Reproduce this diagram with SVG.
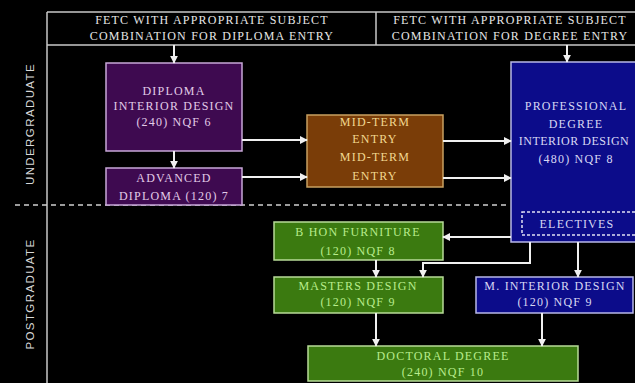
<svg xmlns="http://www.w3.org/2000/svg" width="635" height="383" viewBox="0 0 635 383">
<defs>
<marker id="ah" viewBox="0 0 10 10" refX="9" refY="5" markerWidth="4" markerHeight="4" orient="auto" markerUnits="strokeWidth">
<path d="M0,0 L10,5 L0,10 z" fill="#f0f0f0"/>
</marker>
</defs>
<style>
text{font-family:"Liberation Serif","Times New Roman",serif;font-size:12px;letter-spacing:1.2px;text-anchor:middle;dominant-baseline:central}
.hdr{fill:#e6e6e6}
.side{font-family:"Liberation Sans",Arial,sans-serif;font-size:11.5px;fill:#d8d8d8;letter-spacing:1.4px}
.pur rect{fill:#3e0a50;stroke:#c8a8d8;stroke-width:1.5}
.pur text{fill:#e2cce8}
.brn rect{fill:#7a3d08;stroke:#c8a060;stroke-width:1.5}
.brn text{fill:#f2d890}
.blu rect{fill:#0c0c8a;stroke:#b8b8e8;stroke-width:1.5}
.blu text{fill:#d8d8f4}
.grn rect{fill:#3b7a10;stroke:#b8dc98;stroke-width:1.5}
.grn text{fill:#b8ec8c}
.con path{fill:none;stroke:#f0f0f0;stroke-width:2;marker-end:url(#ah)}
</style>
<rect width="635" height="383" fill="#000"/>
<g id="frame">
<path d="M47,12 H640 M47,45 H640 M47,12 V383 M376,12 V45" stroke="#c8c8c8" stroke-width="1.5" fill="none"/>
<path d="M15,205 H510" stroke="#d0d0d0" stroke-width="1.5" stroke-dasharray="5 4" fill="none"/>
<text class="side" transform="translate(30,124) rotate(-90)">UNDERGRADUATE</text>
<text class="side" transform="translate(30,294) rotate(-90)">POSTGRADUATE</text>
</g>
<g id="hdr-diploma">
<text class="hdr" x="212" y="20">FETC WITH APPROPRIATE SUBJECT</text>
<text class="hdr" x="212" y="36">COMBINATION FOR DIPLOMA ENTRY</text>
</g>
<g id="hdr-degree">
<text class="hdr" x="510" y="20">FETC WITH APPROPRIATE SUBJECT</text>
<text class="hdr" x="510" y="36">COMBINATION FOR DEGREE ENTRY</text>
</g>
<g id="diploma" class="pur">
<rect x="106" y="63" width="136" height="88"/>
<text x="174" y="91">DIPLOMA</text>
<text x="174" y="106">INTERIOR DESIGN</text>
<text x="174" y="122">(240) NQF 6</text>
</g>
<g id="advanced" class="pur">
<rect x="106" y="168" width="136" height="37"/>
<text x="174" y="178">ADVANCED</text>
<text x="174" y="196">DIPLOMA  (120) 7</text>
</g>
<g id="midterm" class="brn">
<rect x="307" y="115" width="136" height="72"/>
<text x="375" y="122">MID-TERM</text>
<text x="375" y="139">ENTRY</text>
<text x="375" y="157">MID-TERM</text>
<text x="375" y="176">ENTRY</text>
</g>
<g id="professional" class="blu">
<rect x="511" y="62" width="130" height="180"/>
<text x="576" y="106">PROFESSIONAL</text>
<text x="576" y="124">DEGREE</text>
<text x="574" y="141" style="letter-spacing:0.5px">INTERIOR DESIGN</text>
<text x="576" y="159">(480) NQF 8</text>
</g>
<g id="electives">
<rect x="522" y="212" width="115" height="23" fill="none" stroke="#e0e0f4" stroke-width="1.5" stroke-dasharray="3 2"/>
<text x="577" y="224" fill="#d8d8f4">ELECTIVES</text>
</g>
<g id="bhon" class="grn">
<rect x="274" y="222" width="169" height="38"/>
<text x="358" y="232">B HON  FURNITURE</text>
<text x="358" y="251">(120) NQF 8</text>
</g>
<g id="masters" class="grn">
<rect x="274" y="277" width="169" height="36"/>
<text x="358" y="286">MASTERS  DESIGN</text>
<text x="358" y="302">(120) NQF 9</text>
</g>
<g id="minterior" class="blu">
<rect x="476" y="277" width="157" height="36"/>
<text x="555" y="286">M. INTERIOR DESIGN</text>
<text x="555" y="302">(120) NQF 9</text>
</g>
<g id="doctoral" class="grn">
<rect x="308" y="346" width="270" height="35"/>
<text x="443" y="356">DOCTORAL DEGREE</text>
<text x="443" y="372">(240) NQF 10</text>
</g>
<g id="connectors" class="con">
<path d="M174,45 V63"/>
<path d="M567,45 V62"/>
<path d="M174,151 V168"/>
<path d="M242,140 H307"/>
<path d="M242,177 H307"/>
<path d="M443,141 H511"/>
<path d="M443,178 H511"/>
<path d="M511,237 H443"/>
<path d="M530,242 V263 H423 V277"/>
<path d="M376,260 V277"/>
<path d="M578,242 V277"/>
<path d="M376,313 V346"/>
<path d="M542,313 V346"/>
</g>
</svg>
